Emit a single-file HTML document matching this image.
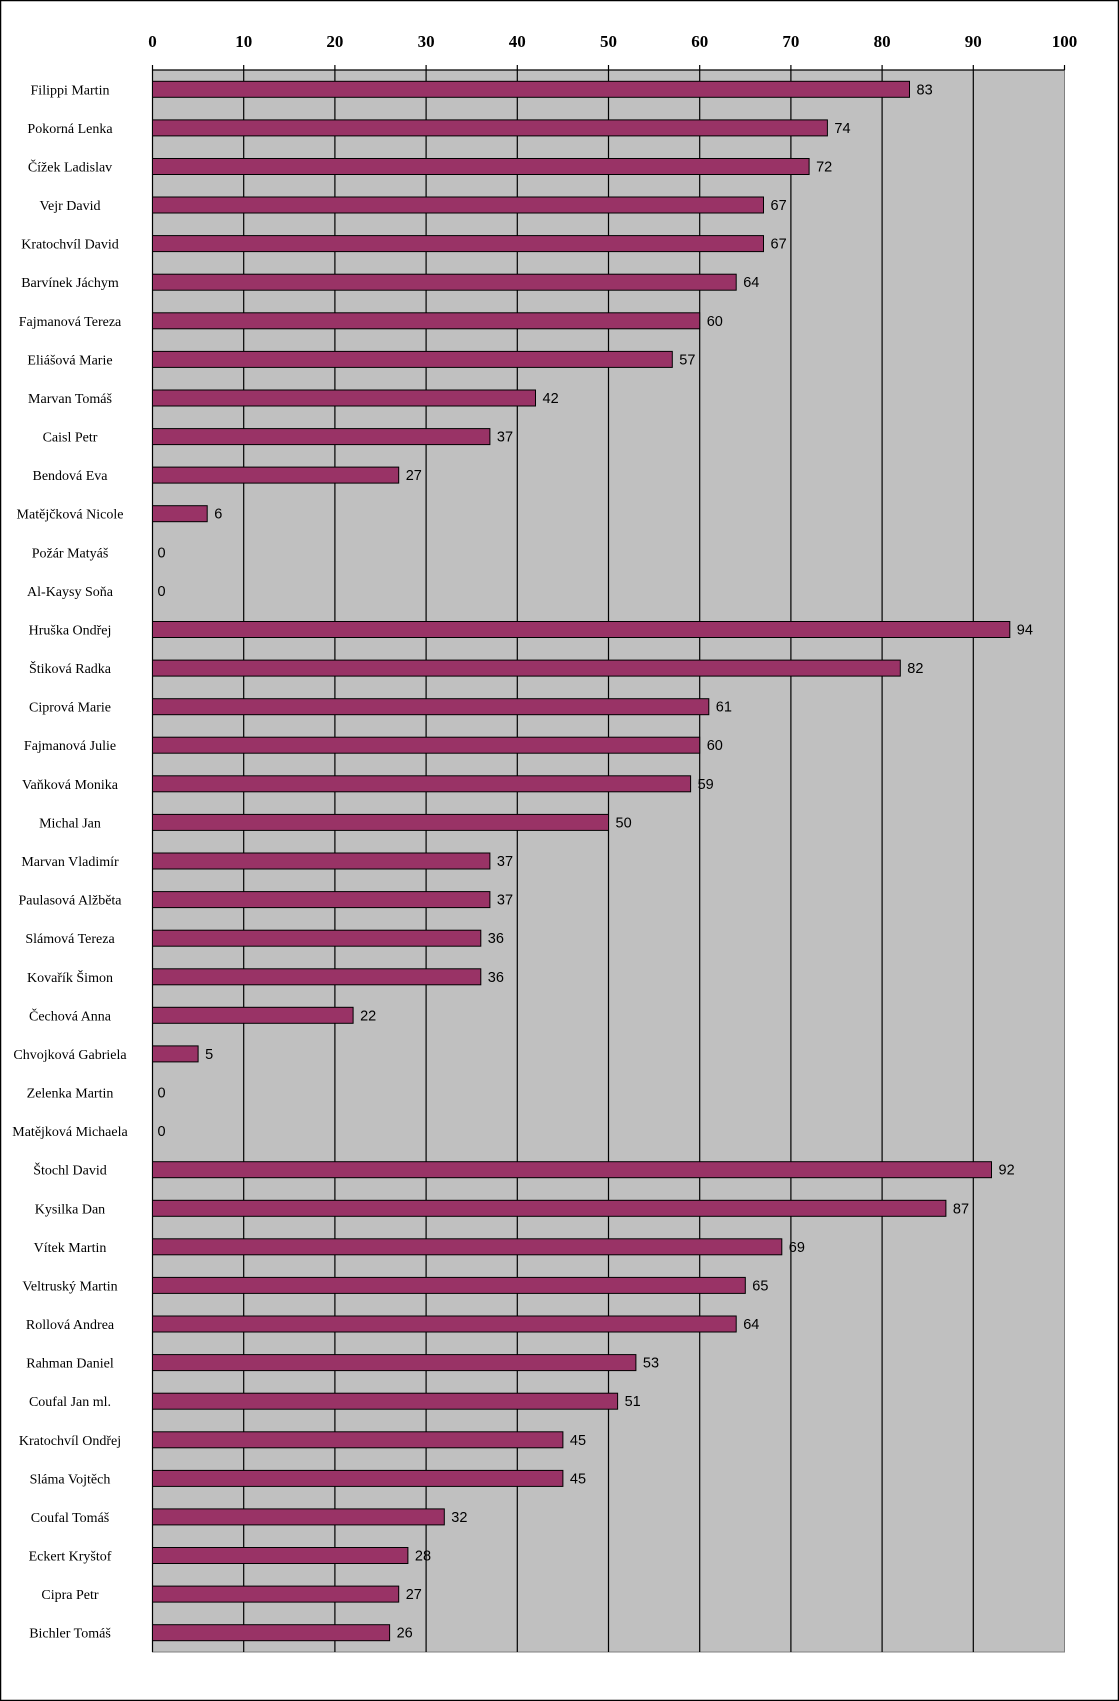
<!DOCTYPE html>
<html><head><meta charset="utf-8"><style>
html,body{margin:0;padding:0;background:#fff;}
svg{display:block;}
.t{font-family:"Liberation Serif",serif;font-weight:bold;font-size:17px;text-anchor:middle;}
.n{font-family:"Liberation Serif",serif;font-size:14px;text-anchor:middle;}
.v{font-family:"Liberation Sans",sans-serif;font-size:14.5px;}
rect.b{fill:#993366;stroke:#000;stroke-width:1;}
</style></head><body>
<svg width="1119" height="1701" xmlns="http://www.w3.org/2000/svg">
<rect x="0.5" y="0.5" width="1118" height="1700" fill="#fff" stroke="#000" stroke-width="1.5"/>
<rect x="152.5" y="70" width="912" height="1582" fill="#c0c0c0" stroke="#808080" stroke-width="1"/>
<g stroke="#000" stroke-width="1.2">
<line x1="152.5" y1="70" x2="1064.5" y2="70"/>
<line x1="152.5" y1="65" x2="152.5" y2="1652"/>
<line x1="243.7" y1="65" x2="243.7" y2="1652"/>
<line x1="334.9" y1="65" x2="334.9" y2="1652"/>
<line x1="426.1" y1="65" x2="426.1" y2="1652"/>
<line x1="517.3" y1="65" x2="517.3" y2="1652"/>
<line x1="608.5" y1="65" x2="608.5" y2="1652"/>
<line x1="699.7" y1="65" x2="699.7" y2="1652"/>
<line x1="790.9" y1="65" x2="790.9" y2="1652"/>
<line x1="882.1" y1="65" x2="882.1" y2="1652"/>
<line x1="973.3" y1="65" x2="973.3" y2="1652"/>
<line x1="1064.5" y1="65" x2="1064.5" y2="70"/>
</g>
<g class="t">
<text x="152.5" y="47">0</text><text x="243.7" y="47">10</text><text x="334.9" y="47">20</text><text x="426.1" y="47">30</text><text x="517.3" y="47">40</text><text x="608.5" y="47">50</text><text x="699.7" y="47">60</text><text x="790.9" y="47">70</text><text x="882.1" y="47">80</text><text x="973.3" y="47">90</text><text x="1064.5" y="47">100</text>
</g>
<g transform="translate(0,89.3)"><rect class="b" x="152.5" y="-8" width="757" height="16"/><text class="v" x="916.5" y="5">83</text><text class="n" x="70" y="5">Filippi Martin</text></g>
<g transform="translate(0,127.9)"><rect class="b" x="152.5" y="-8" width="674.9" height="16"/><text class="v" x="834.4" y="5">74</text><text class="n" x="70" y="5">Pokorná Lenka</text></g>
<g transform="translate(0,166.5)"><rect class="b" x="152.5" y="-8" width="656.6" height="16"/><text class="v" x="816.1" y="5">72</text><text class="n" x="70" y="5">Čížek Ladislav</text></g>
<g transform="translate(0,205.0)"><rect class="b" x="152.5" y="-8" width="611" height="16"/><text class="v" x="770.5" y="5">67</text><text class="n" x="70" y="5">Vejr David</text></g>
<g transform="translate(0,243.6)"><rect class="b" x="152.5" y="-8" width="611" height="16"/><text class="v" x="770.5" y="5">67</text><text class="n" x="70" y="5">Kratochvíl David</text></g>
<g transform="translate(0,282.2)"><rect class="b" x="152.5" y="-8" width="583.7" height="16"/><text class="v" x="743.2" y="5">64</text><text class="n" x="70" y="5">Barvínek Jáchym</text></g>
<g transform="translate(0,320.8)"><rect class="b" x="152.5" y="-8" width="547.2" height="16"/><text class="v" x="706.7" y="5">60</text><text class="n" x="70" y="5">Fajmanová Tereza</text></g>
<g transform="translate(0,359.4)"><rect class="b" x="152.5" y="-8" width="519.8" height="16"/><text class="v" x="679.3" y="5">57</text><text class="n" x="70" y="5">Eliášová Marie</text></g>
<g transform="translate(0,398.0)"><rect class="b" x="152.5" y="-8" width="383" height="16"/><text class="v" x="542.5" y="5">42</text><text class="n" x="70" y="5">Marvan Tomáš</text></g>
<g transform="translate(0,436.6)"><rect class="b" x="152.5" y="-8" width="337.4" height="16"/><text class="v" x="496.9" y="5">37</text><text class="n" x="70" y="5">Caisl Petr</text></g>
<g transform="translate(0,475.1)"><rect class="b" x="152.5" y="-8" width="246.2" height="16"/><text class="v" x="405.7" y="5">27</text><text class="n" x="70" y="5">Bendová Eva</text></g>
<g transform="translate(0,513.7)"><rect class="b" x="152.5" y="-8" width="54.7" height="16"/><text class="v" x="214.2" y="5">6</text><text class="n" x="70" y="5">Matějčková Nicole</text></g>
<g transform="translate(0,552.3)"><text class="v" x="157.5" y="5">0</text><text class="n" x="70" y="5">Požár Matyáš</text></g>
<g transform="translate(0,590.9)"><text class="v" x="157.5" y="5">0</text><text class="n" x="70" y="5">Al-Kaysy Soňa</text></g>
<g transform="translate(0,629.5)"><rect class="b" x="152.5" y="-8" width="857.3" height="16"/><text class="v" x="1016.8" y="5">94</text><text class="n" x="70" y="5">Hruška Ondřej</text></g>
<g transform="translate(0,668.1)"><rect class="b" x="152.5" y="-8" width="747.8" height="16"/><text class="v" x="907.3" y="5">82</text><text class="n" x="70" y="5">Štiková Radka</text></g>
<g transform="translate(0,706.7)"><rect class="b" x="152.5" y="-8" width="556.3" height="16"/><text class="v" x="715.8" y="5">61</text><text class="n" x="70" y="5">Ciprová Marie</text></g>
<g transform="translate(0,745.2)"><rect class="b" x="152.5" y="-8" width="547.2" height="16"/><text class="v" x="706.7" y="5">60</text><text class="n" x="70" y="5">Fajmanová Julie</text></g>
<g transform="translate(0,783.8)"><rect class="b" x="152.5" y="-8" width="538.1" height="16"/><text class="v" x="697.6" y="5">59</text><text class="n" x="70" y="5">Vaňková Monika</text></g>
<g transform="translate(0,822.4)"><rect class="b" x="152.5" y="-8" width="456" height="16"/><text class="v" x="615.5" y="5">50</text><text class="n" x="70" y="5">Michal Jan</text></g>
<g transform="translate(0,861.0)"><rect class="b" x="152.5" y="-8" width="337.4" height="16"/><text class="v" x="496.9" y="5">37</text><text class="n" x="70" y="5">Marvan Vladimír</text></g>
<g transform="translate(0,899.6)"><rect class="b" x="152.5" y="-8" width="337.4" height="16"/><text class="v" x="496.9" y="5">37</text><text class="n" x="70" y="5">Paulasová Alžběta</text></g>
<g transform="translate(0,938.2)"><rect class="b" x="152.5" y="-8" width="328.3" height="16"/><text class="v" x="487.8" y="5">36</text><text class="n" x="70" y="5">Slámová Tereza</text></g>
<g transform="translate(0,976.8)"><rect class="b" x="152.5" y="-8" width="328.3" height="16"/><text class="v" x="487.8" y="5">36</text><text class="n" x="70" y="5">Kovařík Šimon</text></g>
<g transform="translate(0,1015.3)"><rect class="b" x="152.5" y="-8" width="200.6" height="16"/><text class="v" x="360.1" y="5">22</text><text class="n" x="70" y="5">Čechová Anna</text></g>
<g transform="translate(0,1053.9)"><rect class="b" x="152.5" y="-8" width="45.6" height="16"/><text class="v" x="205.1" y="5">5</text><text class="n" x="70" y="5">Chvojková Gabriela</text></g>
<g transform="translate(0,1092.5)"><text class="v" x="157.5" y="5">0</text><text class="n" x="70" y="5">Zelenka Martin</text></g>
<g transform="translate(0,1131.1)"><text class="v" x="157.5" y="5">0</text><text class="n" x="70" y="5">Matějková Michaela</text></g>
<g transform="translate(0,1169.7)"><rect class="b" x="152.5" y="-8" width="839" height="16"/><text class="v" x="998.5" y="5">92</text><text class="n" x="70" y="5">Štochl David</text></g>
<g transform="translate(0,1208.3)"><rect class="b" x="152.5" y="-8" width="793.4" height="16"/><text class="v" x="952.9" y="5">87</text><text class="n" x="70" y="5">Kysilka Dan</text></g>
<g transform="translate(0,1246.8)"><rect class="b" x="152.5" y="-8" width="629.3" height="16"/><text class="v" x="788.8" y="5">69</text><text class="n" x="70" y="5">Vítek Martin</text></g>
<g transform="translate(0,1285.4)"><rect class="b" x="152.5" y="-8" width="592.8" height="16"/><text class="v" x="752.3" y="5">65</text><text class="n" x="70" y="5">Veltruský Martin</text></g>
<g transform="translate(0,1324.0)"><rect class="b" x="152.5" y="-8" width="583.7" height="16"/><text class="v" x="743.2" y="5">64</text><text class="n" x="70" y="5">Rollová Andrea</text></g>
<g transform="translate(0,1362.6)"><rect class="b" x="152.5" y="-8" width="483.4" height="16"/><text class="v" x="642.9" y="5">53</text><text class="n" x="70" y="5">Rahman Daniel</text></g>
<g transform="translate(0,1401.2)"><rect class="b" x="152.5" y="-8" width="465.1" height="16"/><text class="v" x="624.6" y="5">51</text><text class="n" x="70" y="5">Coufal Jan ml.</text></g>
<g transform="translate(0,1439.8)"><rect class="b" x="152.5" y="-8" width="410.4" height="16"/><text class="v" x="569.9" y="5">45</text><text class="n" x="70" y="5">Kratochvíl Ondřej</text></g>
<g transform="translate(0,1478.4)"><rect class="b" x="152.5" y="-8" width="410.4" height="16"/><text class="v" x="569.9" y="5">45</text><text class="n" x="70" y="5">Sláma Vojtěch</text></g>
<g transform="translate(0,1516.9)"><rect class="b" x="152.5" y="-8" width="291.8" height="16"/><text class="v" x="451.3" y="5">32</text><text class="n" x="70" y="5">Coufal Tomáš</text></g>
<g transform="translate(0,1555.5)"><rect class="b" x="152.5" y="-8" width="255.4" height="16"/><text class="v" x="414.9" y="5">28</text><text class="n" x="70" y="5">Eckert Kryštof</text></g>
<g transform="translate(0,1594.1)"><rect class="b" x="152.5" y="-8" width="246.2" height="16"/><text class="v" x="405.7" y="5">27</text><text class="n" x="70" y="5">Cipra Petr</text></g>
<g transform="translate(0,1632.7)"><rect class="b" x="152.5" y="-8" width="237.1" height="16"/><text class="v" x="396.6" y="5">26</text><text class="n" x="70" y="5">Bichler Tomáš</text></g>
</svg>
</body></html>
